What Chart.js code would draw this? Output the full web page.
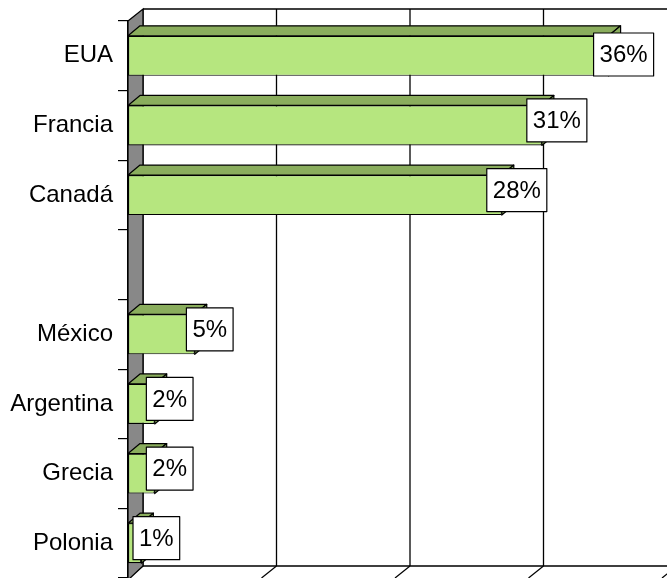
<!DOCTYPE html>
<html>
<head>
<meta charset="utf-8">
<script src="https://cdn.jsdelivr.net/npm/chart.js@4"></script>
<style>
  html,body{margin:0;padding:0;background:#fff;overflow:hidden;}
</style>
</head>
<body>
<canvas id="c" width="667" height="578"></canvas>
<script>
Chart.defaults.font.family="'Liberation Sans',Arial,sans-serif";

const paises  = ['EUA','Francia','Canadá','','México','Argentina','Grecia','Polonia'];
const valores = [36,31,28,null,5,2,2,1];
const ejeX    = [0,10,20,30,40];

const FRONT='#b6e67f', TOP='#8aad5d', WALL='#888888';
const WD=15, WH=-12;   // profundidad pared
const BD=12, BH=-10;   // profundidad barra

const efecto3d = {
  id:'efecto3d',
  beforeDatasetsDraw(chart){
    const {ctx, chartArea:a, scales:{x}} = chart;
    ctx.save();
    ctx.strokeStyle='#000'; ctx.lineWidth=1.3;
    // pared del fondo: lineas de division
    ejeX.forEach(v=>{
      const px=x.getPixelForValue(v)+WD;
      ctx.beginPath(); ctx.moveTo(px,a.top+WH); ctx.lineTo(px,a.bottom+WH); ctx.stroke();
      // diagonal del piso
      ctx.beginPath(); ctx.moveTo(px-WD,a.bottom); ctx.lineTo(px,a.bottom+WH); ctx.stroke();
    });
    ctx.beginPath();
    ctx.moveTo(a.left+WD,a.top+WH); ctx.lineTo(a.right+WD+20,a.top+WH);
    ctx.moveTo(a.left+WD,a.bottom+WH); ctx.lineTo(a.right+WD+20,a.bottom+WH);
    ctx.stroke();
    // pared lateral gris
    ctx.beginPath();
    ctx.moveTo(a.left,a.top); ctx.lineTo(a.left+WD,a.top+WH);
    ctx.lineTo(a.left+WD,a.bottom+WH); ctx.lineTo(a.left,a.bottom+2);
    ctx.closePath();
    ctx.fillStyle=WALL; ctx.fill(); ctx.stroke();
    ctx.restore();
  },
  afterDatasetsDraw(chart){
    const {ctx, chartArea:a} = chart;
    const meta=chart.getDatasetMeta(0);
    ctx.save();
    ctx.strokeStyle='#000'; ctx.lineWidth=1.2; ctx.lineJoin='round';
    meta.data.forEach((bar,i)=>{
      if(valores[i]==null) return;
      const {x:xe, y:yc, base, height:h} = bar.getProps(['x','y','base','height'],true);
      const yt=yc-h/2, yb=yc+h/2;
      // cara superior
      ctx.beginPath();
      ctx.moveTo(base,yt); ctx.lineTo(base+BD,yt+BH); ctx.lineTo(xe+BD,yt+BH); ctx.lineTo(xe,yt);
      ctx.closePath(); ctx.fillStyle=TOP; ctx.fill(); ctx.stroke();
      // cara lateral
      ctx.beginPath();
      ctx.moveTo(xe,yt); ctx.lineTo(xe+BD,yt+BH); ctx.lineTo(xe+BD,yb+BH); ctx.lineTo(xe,yb);
      ctx.closePath(); ctx.fillStyle=TOP; ctx.fill(); ctx.stroke();
    });
    // etiquetas de datos
    ctx.font="24px 'Liberation Sans',Arial,sans-serif";
    ctx.textAlign='center'; ctx.textBaseline='middle';
    meta.data.forEach((bar,i)=>{
      if(valores[i]==null) return;
      const {x:xe, y:yc} = bar.getProps(['x','y'],true);
      const txt=valores[i]+'%';
      const w=ctx.measureText(txt).width+12, h=43;
      const cx=xe+BD+3;
      let top=yc+BH/2-h/2;
      if(top<a.top+12) top=a.top+12;
      ctx.fillStyle='#fff';
      ctx.fillRect(cx-w/2,top,w,h);
      ctx.lineWidth=1.2; ctx.strokeRect(cx-w/2,top,w,h);
      ctx.fillStyle='#000';
      ctx.fillText(txt,cx,top+h/2+1);
    });
    ctx.restore();
  }
};

new Chart(document.getElementById('c'),{
  type:'bar',
  data:{
    labels:paises,
    datasets:[{
      data:valores,
      backgroundColor:FRONT,
      borderColor:'#000',
      borderWidth:1.2,
      borderSkipped:false,
      barPercentage:0.575,
      categoryPercentage:1
    }]
  },
  options:{
    indexAxis:'y',
    responsive:false,
    animation:false,
    layout:{padding:{top:21,right:5,bottom:0,left:0}},
    plugins:{legend:{display:false},tooltip:{enabled:false}},
    scales:{
      x:{display:false,min:0,max:40,ticks:{stepSize:10}},
      y:{
        afterFit(s){s.width=128;s.paddingTop=0;s.paddingBottom=0;},
        grid:{offset:true,drawOnChartArea:false,drawTicks:true,tickLength:10,color:'#000',lineWidth:1.2},
        border:{display:true,color:'#000',width:1.2},
        ticks:{color:'#000',padding:5,font:{size:24}}
      }
    }
  },
  plugins:[efecto3d]
});
</script>
</body>
</html>
